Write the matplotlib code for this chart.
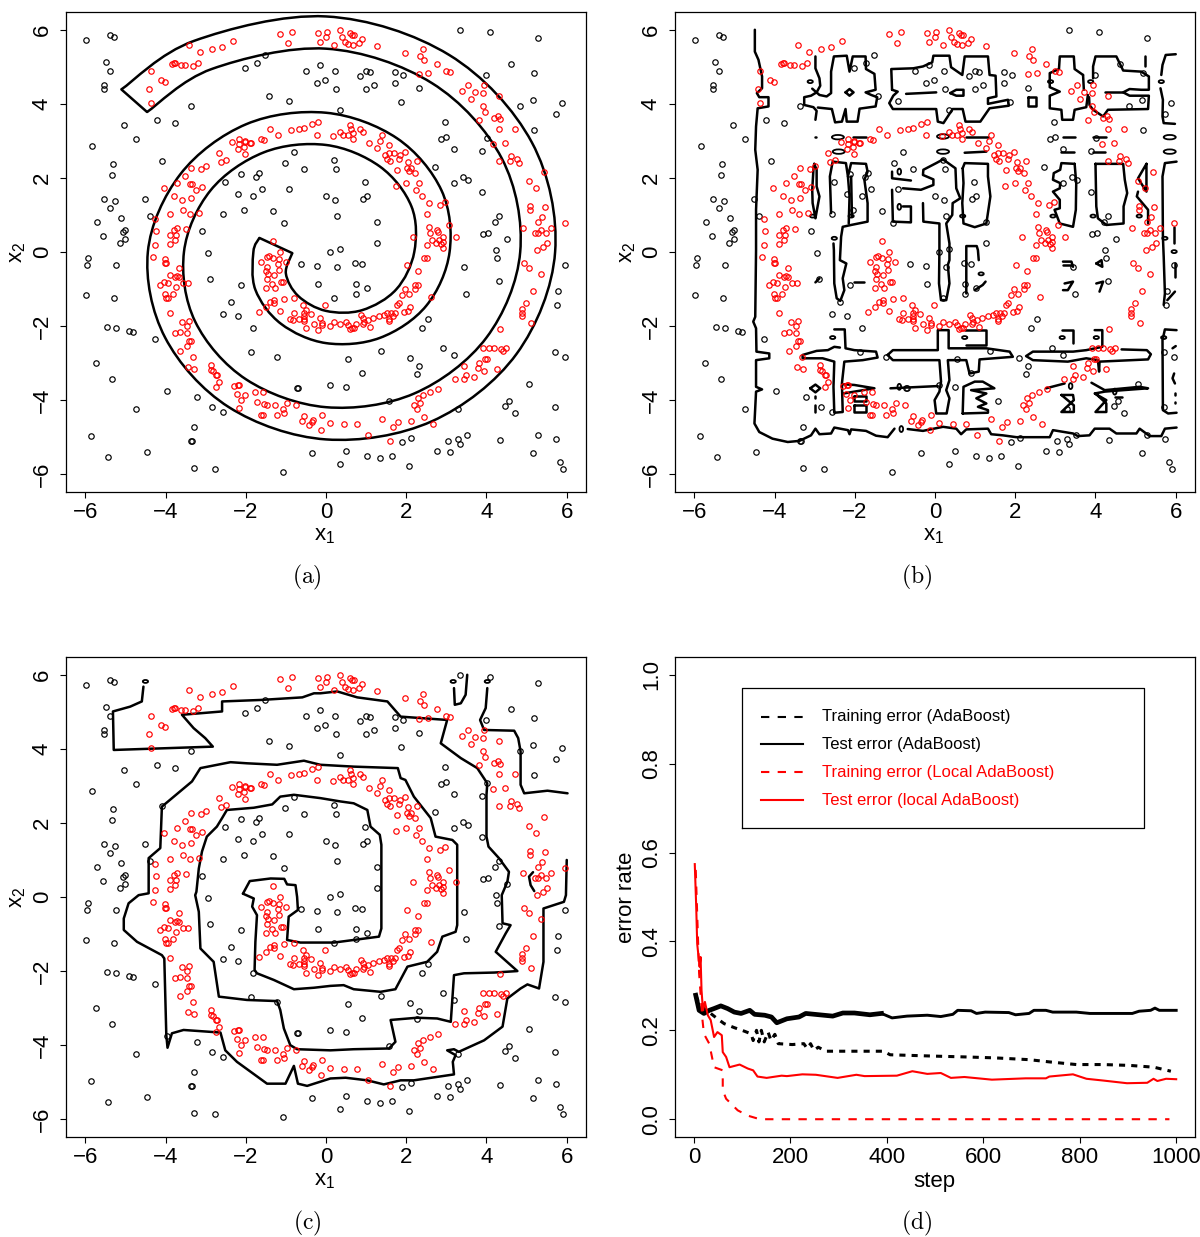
"""Spiral data: decision boundaries of three classifiers plus error-rate curves."""
import numpy as np
import matplotlib
matplotlib.use("Agg")
import matplotlib.pyplot as plt
from matplotlib.path import Path
from matplotlib.patches import PathPatch, Ellipse

plt.rcParams.update({"font.family": ["Liberation Sans", "DejaVu Sans"], "font.size": 16,
                     "mathtext.default": "regular", "axes.linewidth": 0.9})

W, H = 1200, 1237

# ---------------- data points (x1, x2) ----------------
black_pts = [
    (-5.98, 5.72), (-5.38, 5.85), (-5.29, 5.80), (-5.48, 5.13), (-5.38, 4.88), (-5.54, 4.51), (-5.54, 4.40),
    (-3.36, 3.95), (-4.20, 3.57), (-3.76, 3.47), (-5.04, 3.43), (-4.74, 3.06), (-5.83, 2.86), (-4.09, 2.45),
    (-5.32, 2.37), (-5.34, 2.09), (-5.53, 1.43), (-5.25, 1.38), (-5.39, 1.18), (-4.50, 1.42), (-5.11, 0.92),
    (-4.38, 0.98), (-5.71, 0.80), (-5.02, 0.59), (-5.05, 0.53), (-5.57, 0.44), (-5.02, 0.34), (-5.14, 0.23),
    (-3.08, 0.58), (-2.95, -0.04), (-1.51, 5.33), (-1.73, 5.09), (-2.03, 4.97), (-0.50, 4.90), (-0.15, 5.06),
    (-0.03, 4.64), (-0.23, 4.57), (-1.42, 4.22), (-0.91, 4.09), (-0.79, 2.69), (-1.01, 2.41), (-0.56, 2.25),
    (-1.67, 2.14), (-1.74, 2.02), (-2.11, 2.11), (-2.52, 1.90), (-1.59, 1.71), (-2.20, 1.57), (-1.81, 1.51),
    (-0.91, 1.69), (-0.01, 1.51), (-2.04, 1.14), (-2.57, 1.03), (-1.31, 1.12), (-1.04, 0.79),
    (3.35, 5.99), (4.08, 5.95), (5.28, 5.77), (4.60, 5.08), (5.19, 4.84), (4.00, 4.79), (0.22, 4.88),
    (1.00, 4.90), (1.10, 4.85), (0.84, 4.74), (1.73, 4.86), (1.91, 4.79), (0.25, 4.39), (1.00, 4.41),
    (1.20, 4.51), (1.73, 4.55), (2.32, 4.44), (1.86, 4.04), (0.35, 3.84), (4.84, 3.95), (5.17, 4.11),
    (5.87, 4.03), (5.72, 3.73), (5.19, 3.30), (2.97, 3.52), (2.99, 3.10), (2.87, 3.06), (4.02, 3.08),
    (3.20, 2.79), (3.90, 2.72), (2.71, 2.30), (3.41, 2.03), (3.53, 1.95), (3.19, 1.85), (3.90, 1.62),
    (0.21, 2.48), (0.25, 2.23), (0.96, 1.89), (0.22, 1.40), (0.92, 1.43), (1.03, 1.51), (0.27, 0.96),
    (1.26, 0.81), (1.28, 0.23), (0.35, 0.09), (0.11, 0.01), (4.32, 0.98), (4.21, 0.80), (3.91, 0.49),
    (4.03, 0.52), (4.50, 0.34), (4.23, 0.05),
    (-5.93, -0.17), (-5.96, -0.34), (-5.24, -0.34), (-5.98, -1.16), (-5.29, -1.25), (-2.88, -0.74),
    (-2.11, -0.88), (-0.63, -0.33), (-0.23, -0.38), (-0.21, -0.87), (-2.37, -1.36), (-2.57, -1.68),
    (-2.20, -1.74), (-1.83, -2.06), (-5.45, -2.03), (-5.24, -2.06), (-4.92, -2.14), (-4.80, -2.17),
    (-4.25, -2.34), (-1.88, -2.69), (-1.23, -2.83), (-5.74, -3.00), (-5.34, -3.44), (-3.97, -3.74),
    (-3.21, -3.92), (-2.85, -4.19), (-2.57, -4.32), (-4.74, -4.24), (-3.28, -4.73), (-5.86, -4.96),
    (-3.34, -5.10), (-3.36, -5.10), (-4.46, -5.39), (-5.44, -5.54), (-3.29, -5.84), (-2.76, -5.87),
    (-1.08, -5.95), (-0.36, -5.42), (-0.70, -3.68), (-0.72, -3.68), (0.11, -3.59),
    (0.27, -0.41), (0.73, -0.29), (0.90, -0.32), (0.75, -0.86), (1.01, -0.96), (0.76, -1.14), (0.20, -1.24),
    (3.45, -0.40), (4.27, -0.15), (4.32, -0.77), (5.96, -0.35), (5.78, -1.06), (5.76, -1.43), (3.49, -1.14),
    (2.55, -1.80), (2.40, -2.05), (1.38, -2.66), (0.56, -2.88), (2.10, -2.86), (2.32, -3.09), (2.27, -3.29),
    (0.89, -3.27), (2.92, -2.58), (3.20, -2.79), (5.71, -2.69), (5.95, -2.84), (0.51, -3.65), (1.58, -4.01),
    (5.07, -3.57), (3.30, -4.23), (4.57, -4.01), (4.46, -4.17), (4.72, -4.35), (5.70, -4.18), (4.33, -5.07),
    (5.29, -4.95), (5.73, -5.05), (5.16, -5.44), (5.84, -5.68), (5.91, -5.87), (3.51, -4.95), (3.30, -5.06),
    (3.34, -5.18), (3.04, -5.09), (2.76, -5.38), (3.08, -5.41), (2.13, -5.03), (1.90, -5.14), (0.50, -5.36),
    (1.03, -5.52), (1.35, -5.55), (1.64, -5.50), (0.35, -5.73), (2.08, -5.77),
]
red_pts = [
    (-3.41, 5.59), (-3.15, 5.40), (-2.85, 5.48), (-2.58, 5.54), (-2.32, 5.71), (-1.14, 5.88), (-0.84, 5.93),
    (-0.94, 5.64), (-0.21, 5.91), (0.02, 5.95), (-0.00, 5.80), (-0.14, 5.68), (-3.85, 5.08), (-3.80, 5.10),
    (-3.76, 5.09), (-3.61, 5.04), (-3.51, 5.05), (-3.31, 5.03), (-3.18, 5.09), (-4.35, 4.88), (-4.12, 4.64),
    (-4.02, 4.59), (-4.40, 4.40), (-4.37, 4.03), (-0.20, 3.51), (-0.36, 3.45), (-0.56, 3.36), (-0.68, 3.32),
    (-0.87, 3.30), (-1.39, 3.33), (-1.19, 3.17), (-0.23, 3.16), (-1.63, 3.06), (-1.54, 3.02), (-2.18, 3.06),
    (-2.35, 2.97), (-2.03, 3.00), (-2.01, 2.98), (-2.17, 2.91), (-2.05, 2.83), (-1.90, 2.95), (-1.88, 2.93),
    (-2.20, 2.78), (-2.02, 2.65), (-2.67, 2.68), (-2.61, 2.42), (-2.48, 2.48), (-3.36, 2.28), (-3.12, 2.23),
    (-2.99, 2.31), (-3.52, 2.04), (-3.71, 1.86), (-3.40, 1.83), (-3.35, 1.83), (-3.25, 1.67), (-3.09, 1.76),
    (-4.03, 1.74), (-3.80, 1.51), (-3.59, 1.40), (-3.37, 1.45), (-3.56, 1.13), (-3.38, 1.03), (-3.16, 1.04),
    (-3.90, 1.02), (-4.25, 0.88), (-4.23, 0.56), (-3.80, 0.59), (-3.72, 0.64), (-3.49, 0.62), (-3.90, 0.45),
    (-3.75, 0.45), (-3.76, 0.32), (-3.90, 0.21), (-4.27, 0.19), (-1.32, 0.31),
    (0.34, 5.99), (0.40, 5.80), (0.48, 5.68), (0.59, 5.90), (0.64, 5.86), (0.69, 5.86), (0.90, 5.76),
    (0.83, 5.64), (0.67, 5.59), (0.54, 5.61), (0.20, 5.59), (1.26, 5.56), (1.98, 5.37), (2.41, 5.49),
    (2.34, 5.28), (2.43, 5.19), (2.76, 5.08), (2.98, 4.89), (3.09, 4.86), (2.31, 4.80), (2.55, 4.82),
    (3.53, 4.50), (3.38, 4.35), (3.71, 4.33), (3.91, 4.30), (3.93, 4.51), (4.31, 4.22), (3.61, 4.12),
    (3.92, 3.93), (3.96, 3.77), (3.82, 3.57), (4.18, 3.61), (4.29, 3.68), (4.33, 3.59), (4.30, 3.31),
    (4.70, 3.33), (4.17, 2.91), (4.46, 2.95), (4.60, 2.58), (4.76, 2.50), (4.58, 2.46), (4.31, 2.47),
    (4.82, 2.41), (5.43, 2.16), (5.07, 1.93), (5.23, 1.73), (5.09, 1.24), (5.09, 1.13), (5.46, 1.21),
    (5.38, 0.94), (5.29, 0.81), (4.92, 0.66), (5.22, 0.50), (5.29, 0.51), (5.36, 0.60), (5.48, 0.52),
    (5.60, 0.65), (5.95, 0.77), (5.52, 0.24), (5.42, 0.14), (5.25, 0.05), (0.60, 3.42), (0.34, 3.25),
    (0.17, 3.14), (0.43, 3.16), (0.56, 3.15), (0.63, 3.32), (0.68, 3.20), (0.68, 3.05), (0.84, 3.32),
    (0.92, 3.23), (1.40, 3.16), (1.34, 3.00), (1.08, 2.95), (1.28, 2.80), (1.56, 2.90), (1.46, 2.62),
    (1.57, 2.66), (1.69, 2.67), (1.84, 2.62), (1.96, 2.69), (1.83, 2.51), (1.53, 2.50), (1.60, 2.46),
    (2.05, 2.43), (2.26, 2.47), (2.03, 2.28), (2.13, 2.27), (2.07, 2.20), (2.22, 2.13), (1.78, 2.21),
    (2.33, 1.87), (2.00, 1.85), (1.75, 1.77), (2.25, 1.68), (2.40, 1.52), (2.96, 1.36), (2.83, 1.28),
    (2.57, 1.32), (2.52, 1.03), (3.06, 0.73), (2.57, 0.68), (2.58, 0.50), (2.76, 0.59), (2.80, 0.55),
    (2.92, 0.41), (3.23, 0.41), (2.17, 0.41), (2.65, 0.32), (2.82, 0.32), (2.92, 0.26), (2.73, 0.23),
    (2.86, 0.21), (2.52, 0.18), (2.92, 0.12),
    (-4.32, -0.13), (-4.02, -0.19), (-4.02, -0.29), (-3.98, -0.29), (-3.66, -0.44), (-3.89, -0.62),
    (-3.76, -0.67), (-3.71, -0.66), (-3.67, -0.68), (-4.14, -0.88), (-4.03, -0.81), (-3.94, -0.83),
    (-3.56, -0.84), (-3.45, -0.85), (-3.74, -0.95), (-3.82, -1.13), (-4.02, -1.13), (-4.00, -1.23),
    (-3.95, -1.23), (-3.90, -1.65), (-3.58, -1.88), (-3.41, -1.87), (-3.47, -2.00), (-3.76, -2.19),
    (-3.65, -2.15), (-3.46, -2.18), (-3.41, -2.39), (-3.37, -2.39), (-3.46, -2.54), (-3.63, -2.68),
    (-3.32, -2.84), (-3.45, -3.11), (-3.29, -3.17), (-2.86, -3.05), (-2.87, -3.19), (-2.81, -3.21),
    (-2.73, -3.32), (-2.71, -3.33), (-2.67, -3.52), (-2.74, -3.65), (-2.29, -3.61), (-2.20, -3.58),
    (-2.16, -3.58), (-2.23, -3.83), (-2.03, -3.87), (-2.11, -4.00), (-2.16, -4.20), (-1.76, -3.78),
    (-1.56, -3.77), (-1.72, -4.05), (-1.54, -4.10), (-1.47, -4.12), (-1.28, -4.13), (-0.96, -4.07),
    (-0.74, -4.14), (-1.61, -4.40), (-1.58, -4.40), (-1.22, -4.41), (-1.07, -4.24), (-1.04, -4.36),
    (-0.56, -4.43), (-0.09, -4.39), (-0.60, -4.57), (-0.32, -4.53), (-0.35, -4.60), (-0.43, -4.67),
    (-0.13, -4.80), (0.11, -4.63),
    (-1.63, -0.26), (-1.47, -0.13), (-1.43, -0.11), (-1.31, -0.15), (-1.17, -0.20), (-1.14, 0.01),
    (-0.99, -0.27), (-1.19, -0.32), (-1.47, -0.41), (-1.50, -0.50), (-1.18, -0.49), (-1.45, -0.60),
    (-1.29, -0.63), (-1.11, -0.80), (-1.08, -0.80), (-1.47, -0.72), (-1.35, -0.87), (-1.49, -0.96),
    (-1.26, -0.97), (-1.30, -1.30), (-1.39, -1.34), (-1.29, -1.39), (-1.05, -1.27), (-0.79, -1.24),
    (-1.49, -1.49), (-1.66, -1.62), (-1.15, -1.59), (-0.57, -1.42), (-0.02, -1.42), (-0.50, -1.56),
    (-0.79, -1.65), (-0.90, -1.82), (-0.82, -1.83), (-0.56, -1.65), (-0.38, -1.68), (-0.56, -1.72),
    (-0.67, -1.82), (-0.55, -1.81), (-0.56, -1.86), (-0.31, -1.94), (-0.15, -1.77), (-0.10, -1.91),
    (-0.09, -1.97), (-0.49, -2.05), (-0.20, -2.11), (0.10, -2.00),
    (0.20, -1.89), (0.34, -1.94), (0.50, -1.89), (0.54, -1.98), (0.59, -2.09), (0.64, -2.05), (0.75, -1.95),
    (0.69, -2.06), (0.88, -1.70), (0.91, -1.77), (0.92, -1.95), (0.95, -1.88), (1.05, -1.84), (1.09, -2.03),
    (1.17, -1.77), (1.33, -1.72), (1.45, -1.71), (1.52, -1.66), (1.63, -1.66), (1.68, -1.74), (1.56, -1.85),
    (1.58, -1.80), (1.73, -1.64), (1.77, -1.43), (1.83, -1.39), (1.94, -1.62), (2.04, -1.59), (2.09, -1.48),
    (1.89, -1.16), (1.96, -1.01), (2.08, -1.14), (2.22, -1.00), (2.22, -0.89), (2.30, -0.88), (2.62, -1.21),
    (2.03, -0.36), (2.29, -0.50), (2.44, -0.17), (2.52, -0.15), (4.94, -0.29), (5.07, -0.43), (5.35, -0.60),
    (5.17, -1.05), (4.99, -1.38), (4.89, -1.55), (4.89, -1.66), (4.88, -1.74), (5.10, -1.91), (4.34, -2.09),
    (3.91, -2.58), (4.05, -2.60), (4.18, -2.60), (4.37, -2.63), (4.49, -2.60), (4.41, -2.68), (3.97, -2.90),
    (4.01, -2.89), (3.82, -3.00), (3.45, -3.08), (3.80, -3.13), (3.95, -3.21), (4.25, -3.17), (3.69, -3.38),
    (3.48, -3.33), (3.45, -3.44), (3.22, -3.43), (2.78, -3.70), (2.59, -3.79), (2.42, -3.86), (2.30, -3.95),
    (2.19, -4.13), (2.35, -4.09), (2.28, -4.25), (2.43, -4.46), (2.67, -4.64), (2.11, -4.56), (1.79, -4.58),
    (1.66, -4.72), (1.39, -4.52), (0.78, -4.65), (0.45, -4.64), (1.05, -4.95), (1.59, -5.10),
]

# ---------------- panel (a): spiral boundary ----------------
spiral_outer = [
    (-1.66, 0.38), (-1.81, 0.00), (-1.76, -1.02), (-1.12, -1.94), (0.00, -2.46), (1.34, -2.32), (2.50, -1.45),
    (3.08, 0.00), (2.88, 1.66), (1.77, 3.07), (0.00, 3.76), (-1.99, 3.45), (-3.63, 2.10), (-4.44, 0.00),
    (-4.01, -2.31), (-2.42, -4.19), (0.00, -5.06), (2.64, -4.57), (4.75, -2.75), (5.71, 0.00), (5.13, 2.96),
    (3.07, 5.32), (0.00, 6.36), (-3.29, 5.70), (-5.10, 4.39),
]
spiral_inner = [
    (-0.84, -0.03), (-1.00, -0.58), (-0.69, -1.19), (0.00, -1.59), (0.90, -1.57), (1.75, -1.01), (2.20, 0.00),
    (2.13, 1.23), (1.34, 2.31), (0.00, 2.89), (-1.55, 2.69), (-2.88, 1.66), (-3.54, 0.00), (-3.26, -1.88),
    (-1.99, -3.44), (0.00, -4.19), (2.20, -3.82), (4.00, -2.31), (4.84, 0.00), (4.38, 2.53), (2.64, 4.56),
    (0.00, 5.49), (-2.85, 4.94), (-4.46, 3.78),
]
spiral_caps = [[(-5.10, 4.39), (-4.46, 3.78)], [(-1.66, 0.38), (-0.84, -0.03)]]

# ---------------- panel (b): fragmented boundary ----------------
b_lines = [
    # left border and bottom edge
    [(-4.49, 6.0), (-4.49, 5.41), (-4.40, 5.19), (-4.31, 4.74), (-4.31, 4.42), (-4.44, 4.29), (-4.38, 4.18),
     (-4.15, 4.18), (-4.15, 3.93), (-4.42, 3.88), (-4.46, 3.39), (-4.48, 2.76), (-4.42, 2.22), (-4.46, 1.14),
     (-4.46, 0.05), (-4.48, -1.75), (-4.53, -1.88), (-4.46, -2.06), (-4.45, -2.69), (-4.13, -2.74),
     (-4.13, -2.87), (-4.46, -2.92), (-4.46, -3.64), (-4.31, -3.71), (-4.46, -3.77), (-4.50, -4.63),
     (-4.38, -4.86), (-4.05, -5.04), (-3.67, -5.13), (-3.38, -5.10), (-3.09, -4.95), (-2.98, -4.77),
     (-2.88, -4.92), (-2.59, -4.90), (-2.51, -4.74), (-2.17, -4.81), (-2.13, -4.92), (-2.09, -4.79),
     (-1.72, -4.83), (-1.47, -4.96), (-1.18, -5.0), (-1.01, -4.77)],
    [(-0.68, -4.78), (-0.30, -4.83), (0.20, -4.72), (0.53, -4.77), (0.65, -4.92), (0.78, -4.79), (1.32, -4.77),
     (1.40, -4.92), (1.69, -4.95), (2.03, -5.0), (2.86, -5.0), (2.94, -4.81), (3.44, -4.90), (3.56, -4.97),
     (3.85, -4.95), (3.98, -4.77), (4.35, -4.77), (4.52, -4.90), (5.02, -4.90), (5.10, -4.77), (5.35, -4.97),
     (5.64, -4.97), (5.73, -4.77), (6.02, -4.74)],
    # top row
    [(-2.98, 5.28), (-2.98, 4.96), (-2.88, 4.69), (-2.86, 4.49), (-2.95, 4.31), (-3.09, 4.22), (-3.26, 4.18),
     (-3.26, 3.97), (-3.03, 3.91), (-2.95, 3.81), (-2.98, 3.57)],
    [(-3.06, 4.41), (-2.88, 4.24), (-2.70, 4.20), (-2.59, 4.29), (-2.59, 4.87), (-2.52, 5.28), (-2.20, 5.30),
     (-2.13, 4.87), (-2.05, 5.28), (-1.73, 5.28), (-1.72, 4.94), (-1.51, 4.81), (-1.48, 4.38), (-1.73, 4.31),
     (-1.59, 4.24), (-1.44, 4.18), (-1.48, 3.93), (-1.88, 3.87), (-1.93, 3.52), (-2.20, 3.52), (-2.23, 3.86),
     (-2.32, 3.52), (-2.49, 3.50), (-2.57, 3.86), (-2.92, 3.90)],
    [(-2.23, 4.31), (-2.13, 4.40), (-2.03, 4.31), (-2.13, 4.22), (-2.23, 4.31)],
    [(-1.07, 4.38), (-1.09, 4.94), (-0.54, 4.96), (-0.30, 5.01), (-0.07, 5.12), (-0.04, 5.30), (0.36, 5.30),
     (0.40, 4.99), (0.68, 4.78), (0.74, 5.28), (1.32, 5.28), (1.36, 4.78), (1.51, 4.76), (1.53, 4.20),
     (1.32, 4.15), (1.32, 4.0), (1.82, 4.11), (1.84, 3.95), (1.36, 3.88), (1.13, 3.52), (0.76, 3.52),
     (0.69, 3.86), (0.44, 3.86), (0.21, 3.48), (0.07, 3.52), (0.03, 3.86), (-1.05, 3.86), (-1.14, 4.02),
     (-1.04, 4.22), (-0.93, 4.33), (-1.07, 4.38)],
    [(-0.72, 4.27), (0.03, 4.31)],
    [(0.38, 4.29), (0.53, 4.38), (0.71, 4.38), (0.71, 4.22), (0.53, 4.22), (0.38, 4.29)],
    [(2.32, 4.18), (2.52, 4.18), (2.52, 3.93), (2.32, 3.93), (2.32, 4.18)],
    [(3.69, 4.78), (3.48, 4.94), (3.46, 5.28), (3.11, 5.28), (3.09, 4.94), (2.86, 4.83), (2.86, 4.45),
     (3.11, 4.33), (2.86, 4.22), (2.86, 3.88), (3.15, 3.84), (3.17, 3.57), (3.44, 3.57), (3.48, 3.84),
     (3.77, 3.91), (3.81, 4.24)],
    [(3.69, 4.78), (3.71, 4.38)],
    [(3.84, 4.18), (3.85, 3.97), (3.94, 3.84), (4.19, 3.66), (4.31, 3.84), (5.31, 3.86), (5.33, 4.22),
     (4.85, 4.22), (4.69, 4.31), (4.85, 4.40), (5.14, 4.38), (5.33, 4.38), (5.33, 4.74), (5.14, 4.87),
     (4.69, 4.90), (4.52, 5.28), (4.0, 5.28), (3.94, 5.01), (3.94, 4.69)],
    [(4.23, 4.31), (4.69, 4.31)],
    [(5.23, 5.28), (5.23, 5.01)],
    [(6.0, 5.34), (5.75, 5.32), (5.67, 5.05), (5.64, 4.78)],
    [(5.62, 4.42), (5.68, 4.11), (5.67, 3.66), (5.70, 3.48), (5.98, 3.46)],
    # middle dashes
    [(-2.98, 3.10), (-2.96, 3.10)],
    [(-2.05, 3.10), (-1.73, 3.10)], [(0.78, 3.10), (1.32, 3.10)], [(0.74, 2.68), (1.28, 2.71)],
    [(3.19, 3.10), (3.48, 3.10)], [(3.15, 2.71), (3.46, 2.71)], [(3.94, 3.10), (4.25, 3.10)],
    [(3.94, 2.71), (4.23, 2.71)],
    # middle row
    [(-3.01, 2.38), (-2.95, 2.22), (-2.95, 1.77), (-2.88, 1.50), (-2.95, 1.09), (-2.98, 0.91), (-3.05, 1.32),
     (-3.06, 1.68), (-3.03, 2.22), (-3.01, 2.38)],
    [(-2.59, 1.05), (-2.62, 2.04), (-2.55, 2.44), (-2.22, 2.40), (-2.17, 2.04), (-2.09, 2.40), (-1.72, 2.38),
     (-1.68, 2.17), (-1.76, 1.95), (-1.68, 1.32), (-1.68, 0.82), (-2.09, 0.73), (-2.30, 0.68), (-2.34, 0.41),
     (-2.37, -0.22), (-2.21, -0.31), (-2.30, -0.71), (-2.26, -1.03), (-2.36, -1.32), (-2.45, -1.25),
     (-2.51, -0.85), (-2.52, 0.05), (-2.53, 0.23)],
    [(-2.17, 2.04), (-2.13, 1.50), (-2.15, 0.77)],
    [(-2.09, 2.04), (-2.07, 0.95)],
    [(-1.07, 2.17), (-1.07, 1.99), (-0.60, 1.93)],
    [(-0.80, 1.72), (-0.35, 1.68), (-0.04, 1.81), (-0.04, 1.96), (-0.30, 2.08), (-0.29, 2.22), (0.03, 2.40),
     (0.20, 2.50), (0.51, 2.26), (0.53, 1.72), (0.63, 1.45), (0.44, 1.32), (0.43, 1.0), (0.28, 0.77),
     (0.36, 0.23), (0.36, -0.22), (0.32, -0.35), (0.36, -0.85), (0.28, -1.30), (0.15, -1.30), (0.10, -0.85),
     (0.11, 0.05), (0.11, 0.23), (0.11, 0.77), (-0.29, 0.82), (-0.30, 1.32)],
    [(-0.80, 1.23), (-0.60, 1.23), (-0.60, 0.80), (-1.05, 0.82), (-1.07, 1.68)],
    [(0.69, 2.26), (0.74, 2.40), (1.32, 2.38), (1.32, 2.04), (1.38, 1.50), (1.28, 0.77), (0.99, 0.67),
     (0.71, 0.77), (0.68, 1.32), (0.71, 1.86), (0.69, 2.26)],
    [(0.78, -1.12), (0.78, 0.05), (0.78, 0.16), (1.04, 0.16), (1.07, 0.05), (1.09, -0.22)],
    [(1.26, -0.80), (1.19, -0.89), (0.99, -1.03)],
    [(3.48, 2.38), (3.15, 2.40), (3.12, 2.22), (2.96, 2.13), (2.94, 1.95), (3.12, 1.86), (3.11, 1.72),
     (2.94, 1.63), (3.11, 1.41), (3.11, 1.18), (2.98, 1.14), (3.11, 0.77), (3.44, 0.68), (3.51, 1.14),
     (3.52, 1.86), (3.48, 2.38)],
    [(4.0, 2.38), (4.69, 2.38), (4.73, 1.95), (4.79, 1.59), (4.70, 1.23), (4.70, 0.77), (4.27, 0.73),
     (4.06, 0.91), (4.02, 1.23), (4.0, 2.38)],
    [(5.27, 2.38), (5.27, 1.63), (5.06, 1.99), (5.27, 2.38)],
    [(5.06, 1.63), (5.03, 1.50), (5.31, 1.14), (5.31, 0.77)],
    [(6.02, 2.44), (5.73, 2.40), (5.67, 2.04), (5.68, 0.41), (5.70, -0.13), (5.73, -1.12), (5.70, -1.43)],
    [(5.96, 0.68), (5.96, 0.23)], [(5.98, -0.31), (5.98, -0.67)], [(5.98, -1.07), (5.79, -1.30)],
    [(6.02, -2.11), (5.73, -2.09), (5.67, -2.38), (5.68, -4.27), (5.81, -4.36), (6.02, -4.34)],
    [(5.92, -2.60), (6.0, -2.54)], [(5.96, -3.28), (5.92, -3.41), (5.98, -3.55)],
    [(5.98, -3.82), (5.98, -3.85)], [(5.98, -4.05), (5.98, -4.08)],
    # bottom row
    [(-2.51, -2.09), (-2.25, -2.09), (-2.23, -2.60), (-2.01, -2.65), (-1.47, -2.69), (-1.43, -2.85),
     (-1.80, -2.92), (-2.26, -2.96), (-2.32, -3.55), (-2.30, -4.32), (-2.51, -4.34), (-2.53, -3.64),
     (-2.51, -2.96), (-2.80, -2.87), (-3.30, -2.87), (-3.30, -2.78), (-2.95, -2.67), (-2.67, -2.65),
     (-2.51, -2.56), (-2.37, -2.58)],
    [(-2.30, -3.57), (-2.01, -3.59), (-1.51, -3.68), (-2.01, -3.77), (-2.28, -3.82)],
    [(-2.03, -3.89), (-1.73, -3.89), (-1.73, -4.02), (-2.03, -4.02), (-2.03, -3.89)],
    [(-2.03, -4.14), (-1.73, -4.14), (-1.73, -4.32), (-2.03, -4.32), (-2.03, -4.14)],
    [(-3.11, -3.68), (-2.98, -3.58), (-2.86, -3.68), (-2.98, -3.79), (-3.11, -3.68)],
    [(-2.98, -4.14), (-2.98, -4.32)], [(-2.98, -3.89), (-2.98, -3.93)],
    [(-2.03, -0.80), (-1.76, -0.80)], [(-2.98, -0.82), (-2.88, -0.71)],
    [(-1.18, -2.78), (-1.05, -2.65), (0.07, -2.65), (0.07, -2.11), (0.34, -2.11), (0.34, -2.60), (0.78, -2.60),
     (1.28, -2.60), (1.86, -2.69), (1.94, -2.83), (1.11, -2.90), (1.09, -3.23), (0.86, -3.28), (0.78, -2.92),
     (0.32, -2.92), (0.36, -3.46), (0.28, -3.73), (0.36, -3.95), (0.29, -4.36), (0.03, -4.36), (-0.01, -4.0),
     (0.11, -3.77), (0.15, -3.50), (0.11, -2.92), (-1.05, -2.92), (-1.18, -2.78)],
    [(0.74, -2.11), (1.26, -2.11), (1.26, -2.51), (0.78, -2.51)],
    [(-1.11, -3.68), (-0.72, -3.66), (0.07, -3.62)],
    [(0.69, -4.36), (0.71, -3.64), (0.99, -3.50), (1.19, -3.50), (1.48, -3.68), (0.90, -3.73), (1.28, -3.82),
     (1.03, -3.95), (1.28, -4.09), (1.07, -4.18), (1.32, -4.27), (1.32, -4.34), (0.69, -4.36)],
    [(3.98, -2.11), (4.17, -2.11), (4.17, -2.56), (3.77, -2.65), (3.44, -2.69), (2.98, -2.69), (2.44, -2.69),
     (2.27, -2.81), (2.44, -2.92), (3.31, -2.96), (3.77, -2.87), (4.06, -2.92), (4.09, -3.23), (4.10, -2.96),
     (5.31, -2.90), (5.38, -2.76), (5.28, -2.65), (4.65, -2.63)],
    [(3.17, -2.11), (3.44, -2.11), (3.44, -2.47)],
    [(3.15, -3.86), (3.44, -3.86), (3.46, -4.0), (3.15, -4.32), (3.46, -4.32), (3.46, -4.14), (3.15, -3.86)],
    [(2.77, -3.68), (3.23, -3.55)],
    [(3.90, -3.53), (4.23, -3.73), (5.10, -3.64), (5.31, -3.68), (4.69, -3.73), (4.23, -3.77), (3.98, -3.82),
     (4.27, -4.0), (4.0, -4.32), (4.27, -4.32), (4.27, -4.09), (4.0, -3.82)],
    [(3.19, -0.26), (3.40, -0.26), (3.44, -0.40)], [(3.19, -0.35), (3.40, -0.35)],
    [(4.02, -0.31), (4.15, -0.22), (4.17, -0.40), (4.02, -0.31)],
    [(3.23, -0.85), (3.44, -0.80), (3.31, -1.03), (3.19, -1.03)],
    [(4.02, -0.85), (4.19, -0.80), (4.10, -1.07)],
    [(4.48, -3.91), (4.65, -3.91)],
]
b_wide_ovals = [(-2.42, 3.10), (-2.40, 2.71), (0.20, 3.12), (0.20, 2.71), (5.85, 3.10), (5.85, 2.71)]
b_flat_ovals = [
    (-3.11, 4.60), (2.88, 4.60), (3.88, 4.60), (5.64, 4.60), (-3.05, 0.97), (-2.09, 0.97), (0.69, 0.97),
    (2.94, 0.97), (3.94, 0.97), (5.09, 0.97), (-2.51, 0.37), (5.73, 0.37), (5.96, 0.01), (-2.55, -2.31),
    (0.74, -2.31), (3.17, -2.31), (4.02, -2.31), (5.70, -2.31), (1.15, -0.59),
]
b_tall_ovals = [(-0.84, -4.78), (-0.89, 2.17), (-0.89, 1.22), (3.38, -3.62), (4.48, -3.77), (-0.89, -3.64)]

# ---------------- panel (c): blocky boundary ----------------
c_lines = [
    [(-2.07, 0.09), (-1.90, 0.43), (-1.38, 0.50), (-1.04, 0.49), (-0.97, 0.34), (-0.76, 0.32), (-0.72, 0.0),
     (-0.70, -0.35), (-0.93, -0.53), (-0.97, -1.16), (-0.64, -1.23), (0.11, -1.23), (0.20, -1.23), (0.69, -1.16),
     (1.32, -1.07), (1.38, -0.85), (1.38, 0.05), (1.38, 1.41), (1.34, 1.68), (1.11, 1.90), (1.03, 2.35),
     (0.69, 2.53), (0.36, 2.58), (-0.14, 2.67), (-0.80, 2.76), (-1.14, 2.71), (-1.34, 2.50), (-1.80, 2.41),
     (-2.47, 2.35), (-2.59, 2.13), (-2.72, 1.90), (-2.97, 1.63), (-3.09, 1.23), (-3.17, 0.77), (-3.23, 0.14),
     (-3.26, 0.05), (-3.17, -0.40), (-3.13, -1.39), (-2.80, -1.75), (-2.67, -2.69), (-1.97, -2.78),
     (-1.22, -2.81), (-1.14, -3.05), (-1.05, -3.55), (-0.89, -4.0), (-0.72, -4.11), (0.11, -4.14), (0.69, -4.11),
     (1.57, -4.09), (1.73, -3.91), (1.61, -3.32), (2.27, -3.26), (2.77, -3.28), (3.11, -3.37), (3.19, -2.11),
     (3.44, -2.06), (4.19, -2.04), (4.77, -2.0), (4.23, -1.48), (4.48, -0.98), (4.60, -0.76), (4.40, -0.71),
     (4.38, 0.05), (4.52, 0.41), (4.56, 0.68), (4.31, 1.05), (4.05, 1.36), (4.0, 1.63), (4.0, 2.76), (4.02, 3.07),
     (3.77, 3.48), (3.36, 3.75), (2.86, 4.15), (3.02, 4.78), (1.86, 4.87), (1.53, 5.28), (0.78, 5.39),
     (0.28, 5.55), (-0.14, 5.50), (-0.30, 5.50), (-0.59, 5.39), (-1.63, 5.32), (-2.59, 5.28), (-2.59, 5.01),
     (-3.59, 4.92), (-3.30, 4.56), (-3.01, 4.29), (-2.82, 4.06), (-5.29, 3.97), (-5.31, 5.01), (-4.88, 5.14),
     (-4.59, 5.28), (-4.55, 5.68)],
    [(-2.07, 0.09), (-1.80, -0.04), (-1.84, -0.26), (-1.72, -0.49), (-1.76, -1.21), (-1.78, -1.97), (-1.72, -2.06),
     (-1.30, -2.24), (-0.80, -2.49), (-0.30, -2.45), (0.11, -2.40), (0.44, -2.38), (0.69, -2.49), (1.36, -2.56),
     (1.73, -2.49), (2.03, -1.88), (2.52, -1.75), (2.77, -1.48), (2.90, -1.07), (3.23, -0.94), (3.27, -0.76),
     (3.27, 0.05), (3.27, 1.41), (3.15, 1.54), (2.73, 1.63), (2.61, 2.13), (2.19, 2.71), (1.98, 3.16), (1.86, 3.21),
     (1.79, 3.48), (0.69, 3.52), (-0.14, 3.57), (-0.55, 3.68), (-1.22, 3.57), (-1.97, 3.61), (-2.38, 3.64),
     (-3.13, 3.48), (-3.34, 3.12), (-4.09, 2.44), (-4.13, 1.32), (-4.42, 1.05), (-4.42, 0.10), (-4.67, 0.05),
     (-4.92, -0.17), (-5.04, -0.58), (-5.04, -0.89), (-4.71, -1.21), (-4.09, -1.57), (-4.03, -1.66), (-3.98, -3.73),
     (-3.95, -4.07), (-3.84, -3.68), (-3.55, -3.59), (-2.63, -3.66), (-2.51, -4.14), (-2.22, -4.45), (-1.47, -5.04),
     (-1.01, -5.04), (-0.80, -4.56), (-0.70, -5.04), (-0.47, -5.10), (0.11, -4.90), (0.49, -4.88), (1.03, -4.95),
     (1.44, -5.06), (1.86, -4.95), (2.19, -4.95), (3.19, -4.79), (3.16, -4.45), (3.23, -4.27), (3.02, -4.14),
     (3.19, -4.11), (3.31, -4.18), (3.94, -3.87), (4.40, -3.50), (4.52, -2.74), (4.85, -2.47), (5.02, -2.36),
     (5.31, -2.47), (5.42, -1.75), (5.42, -0.31), (5.93, -0.13), (5.98, 0.05), (6.00, 1.0)],
    [(3.19, 5.64), (3.21, 5.19), (3.36, 5.23), (3.48, 5.46), (3.52, 6.0)],
    [(4.02, 5.64), (3.98, 5.10), (3.84, 4.78), (3.94, 4.51), (4.69, 4.49), (4.79, 4.29), (4.85, 3.93), (4.85, 3.03),
     (4.94, 2.80), (5.52, 2.87), (6.02, 2.80)],
    [(5.16, 0.67), (5.06, 0.55), (5.10, 0.32), (5.19, 0.16)],
]
c_flat_ovals = [(-4.50, 5.82), (3.17, 5.82), (4.02, 5.82)]

# ---------------- panel (d): error rates ----------------
test_ada = [
    (4, .279), (11, .245), (21, .238), (32, .245), (42, .249), (56, .255), (70, .249), (84, .241), (98, .238),
    (116, .245), (126, .236), (147, .234), (161, .230), (172, .217), (193, .226), (218, .230), (232, .238),
    (260, .235), (288, .232), (309, .239), (333, .239), (365, .235), (389, .238), (411, .228), (442, .232),
    (484, .234), (512, .231), (537, .236), (547, .245), (575, .244), (586, .238), (604, .241), (653, .240),
    (667, .235), (695, .238), (705, .245), (730, .245), (744, .241), (793, .241), (821, .238), (863, .238),
    (909, .238), (923, .243), (947, .245), (956, .250), (965, .245), (1000, .245),
]
train_ada = [
    (4, .279), (11, .260), (21, .249), (35, .238), (49, .226), (63, .215), (84, .206), (105, .198), (119, .192),
    (123, .177), (130, .200), (135, .174), (140, .200), (146, .174), (154, .196), (160, .177), (168, .191),
    (173, .177), (175, .170), (204, .168), (228, .170), (235, .159), (242, .170), (249, .155), (258, .162),
    (274, .153), (330, .153), (393, .153), (407, .145), (498, .142), (568, .140), (625, .138), (695, .134),
    (737, .129), (793, .123), (849, .123), (905, .121), (954, .117), (989, .108),
]
test_local = [
    (2, .574), (5, .478), (7, .395), (12, .343), (14, .365), (16, .290), (19, .245), (23, .264), (29, .234),
    (35, .223), (42, .185), (49, .196), (58, .189), (60, .151), (67, .140), (74, .117), (95, .123), (112, .114),
    (123, .110), (132, .096), (151, .093), (182, .098), (193, .097), (225, .101), (253, .100), (298, .093),
    (337, .100), (354, .097), (421, .098), (453, .108), (484, .102), (512, .104), (533, .093), (561, .095),
    (618, .089), (688, .092), (730, .092), (737, .096), (786, .101), (814, .091), (849, .087), (898, .081),
    (940, .082), (953, .091), (961, .086), (979, .091), (1000, .090),
]
train_local = [
    (4, .561), (11, .328), (18, .223), (21, .192), (32, .170), (42, .117), (60, .110), (60, .065), (67, .046),
    (91, .020), (112, .008), (137, 0), (986, 0),
]
legend_labels = ["Training error (AdaBoost)", "Test error (AdaBoost)",
                 "Training error (Local AdaBoost)", "Test error (local AdaBoost)"]
xy_ticks = [-6, -4, -2, 0, 2, 4, 6]
step_ticks = [0, 200, 400, 600, 800, 1000]
err_ticks = [0.0, 0.2, 0.4, 0.6, 0.8, 1.0]


def make_axes(left, top, right, bottom):
    return fig.add_axes([left / W, 1 - bottom / H, (right - left) / W, (bottom - top) / H])


def smooth(ax, pts, lw=1.8):
    # Catmull-Rom through the read vertices, as cubic bezier pieces
    p = np.array(pts, dtype=float)
    q = np.vstack([p[0], p, p[-1]])
    verts, codes = [p[0]], [Path.MOVETO]
    for i in range(1, len(q) - 2):
        verts += [q[i] + (q[i + 1] - q[i - 1]) / 6, q[i + 1] - (q[i + 2] - q[i]) / 6, q[i + 1]]
        codes += [Path.CURVE4] * 3
    ax.add_patch(PathPatch(Path(verts, codes), fill=False, edgecolor="k", lw=lw))


def lines(ax, groups, lw=1.8):
    for g in groups:
        a = np.array(g)
        ax.plot(a[:, 0], a[:, 1], color="k", lw=lw, solid_joinstyle="round", solid_capstyle="round")


def ovals(ax, centres, w, h):
    for c in centres:
        ax.add_patch(Ellipse(c, w, h, fill=False, edgecolor="k", lw=1.3))


def scatter_panel(ax):
    b = np.array(black_pts)
    r = np.array(red_pts)
    ax.plot(b[:, 0], b[:, 1], "o", mfc="none", mec="k", ms=3.9, mew=0.85, zorder=3)
    ax.plot(r[:, 0], r[:, 1], "o", mfc="none", mec="#ff0000", ms=3.9, mew=0.85, zorder=3)
    ax.set_xlim(-6.48, 6.48)
    ax.set_ylim(-6.48, 6.48)
    ax.set_xticks(xy_ticks)
    ax.set_yticks(xy_ticks)


def style(ax):
    ax.tick_params(length=4.5, width=0.8, labelsize=16, pad=3)
    ax.tick_params(axis="y", labelrotation=90, pad=5)
    for t in ax.get_yticklabels():
        t.set_va("center")


fig = plt.figure(figsize=(W / 100, H / 100), dpi=100)

ax_a = make_axes(66, 12, 586, 492)
ax_b = make_axes(675, 12, 1195, 492)
ax_c = make_axes(66, 657, 586, 1137)
ax_d = make_axes(675, 657, 1195, 1137)

# ---------------- panel a ----------------
scatter_panel(ax_a)
smooth(ax_a, spiral_outer)
smooth(ax_a, spiral_inner)
lines(ax_a, spiral_caps)

# ---------------- panel b ----------------
scatter_panel(ax_b)
lines(ax_b, b_lines)
ovals(ax_b, b_wide_ovals, 0.30, 0.12)
ovals(ax_b, b_flat_ovals, 0.13, 0.08)
ovals(ax_b, b_tall_ovals, 0.09, 0.16)

# ---------------- panel c ----------------
scatter_panel(ax_c)
lines(ax_c, c_lines)
ovals(ax_c, c_flat_ovals, 0.13, 0.08)

# ---------------- panel d ----------------
ta, tr, tl, rl = map(np.array, (test_ada, train_ada, test_local, train_local))
ax_d.plot(tr[:, 0], tr[:, 1], color="k", lw=2.2, dashes=(2.0, 2.0))
ax_d.plot(ta[:, 0], ta[:, 1], color="k", lw=2.1, solid_joinstyle="round")
ax_d.plot(ta[:23, 0], ta[:23, 1], color="k", lw=3.4, solid_joinstyle="round")
ax_d.plot(rl[:, 0], rl[:, 1], color="#ff0000", lw=1.5, dashes=(4, 4))
ax_d.plot(tl[:, 0], tl[:, 1], color="#ff0000", lw=1.5)
ax_d.set_xlim(-39, 1039)
ax_d.set_ylim(-0.04, 1.04)
ax_d.set_xticks(step_ticks)
ax_d.set_yticks(err_ticks)
ax_d.set_yticklabels(["0.0", "0.2", "0.4", "0.6", "0.8", "1.0"])

# legend box, drawn by hand to keep its exact proportions
ax_d.plot([99.6, 932.6, 932.6, 99.6, 99.6], [0.656, 0.656, 0.971, 0.971, 0.656], color="k", lw=0.9)
legend_y = [0.906, 0.844, 0.781, 0.718]
legend_col = ["k", "k", "#ff0000", "#ff0000"]
legend_dash = [(4, 4), None, (4, 4), None]
for y, lab, col, d in zip(legend_y, legend_labels, legend_col, legend_dash):
    if d:
        ax_d.plot([139, 226], [y, y], color=col, lw=1.5, dashes=d)
    else:
        ax_d.plot([139, 226], [y, y], color=col, lw=1.5)
    ax_d.text(265.6, y, lab, color=col, fontsize=12, va="center", ha="left")

for ax in (ax_a, ax_b, ax_c, ax_d):
    style(ax)

# ---------------- labels and captions ----------------
for cx, cy in ((325, 536), (934, 536), (325, 1181)):
    fig.text(cx / W, 1 - cy / H, "x$_1$", ha="center", va="center", fontsize=16)
for cx, cy in ((17, 252), (627, 252), (17, 897)):
    fig.text(cx / W, 1 - cy / H, "x$_2$", ha="center", va="center", fontsize=16, rotation=90)
fig.text(934 / W, 1 - 1181 / H, "step", ha="center", va="center", fontsize=16)
fig.text(627 / W, 1 - 897 / H, "error rate", ha="center", va="center", fontsize=16, rotation=90)
for cx, cy, lab in ((307, 577, "a"), (917, 577, "b"), (307, 1223, "c"), (917, 1223, "d")):
    fig.text(cx / W, 1 - cy / H, r"$\mathrm{(%s)}$" % lab, ha="center", va="center", fontsize=17,
             math_fontfamily="cm")

fig.savefig("out.png", dpi=100)
plt.close(fig)
